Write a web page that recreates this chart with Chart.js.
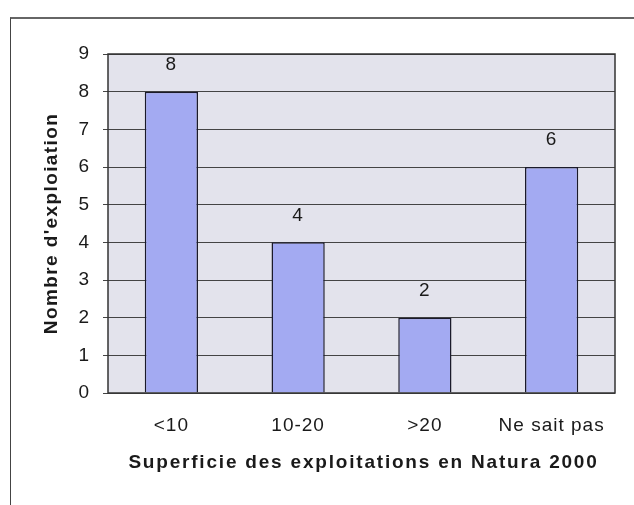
<!DOCTYPE html>
<html lang="fr">
<head>
  <meta charset="UTF-8">
  <title>Superficie des exploitations en Natura 2000</title>
  <script src="https://cdn.jsdelivr.net/npm/chart.js"></script>
  <style>
    html, body { margin: 0; padding: 0; background: #fff; }
    .wrap { position: relative; width: 634px; height: 505px; }
    .frame {
      position: absolute; left: 10px; top: 17px; right: -2px; bottom: -2px;
      border-left: 1px solid #444; border-top: 2px solid #666;
    }
    canvas { position: absolute; left: 0; top: 0; }
  </style>
</head>
<body>
<div class="wrap">
  <div class="frame"></div>
  <canvas id="chart" width="634" height="505"></canvas>
</div>

<script>
  // chart data
  const categories = ['<10', '10-20', '>20', 'Ne sait pas'];
  const exploitations = [8, 4, 2, 6];
  const yTicks = [0, 1, 2, 3, 4, 5, 6, 7, 8, 9];
  const xTitle = 'Superficie des exploitations en Natura 2000';
  const yTitle = "Nombre d'exploiation";

  const FONT = '"Liberation Sans", Arial, sans-serif';

  // plot background, frame, titles and value labels like the Excel original
  const excelLook = {
    id: 'excelLook',
    beforeDraw(chart) {
      const { ctx, chartArea: a } = chart;
      ctx.save();
      ctx.fillStyle = '#e3e3ec';
      ctx.fillRect(a.left, a.top, a.right - a.left, a.bottom - a.top);
      ctx.restore();
      ctx.letterSpacing = '1px';
    },
    afterDatasetsDraw(chart) {
      const { ctx, chartArea: a } = chart;
      ctx.save();
      ctx.strokeStyle = '#333';
      ctx.lineWidth = 1.5;
      ctx.strokeRect(a.left, a.top, a.right - a.left, a.bottom - a.top);
      ctx.fillStyle = '#1a1a1a';
      ctx.font = '19px ' + FONT;
      ctx.letterSpacing = '1px';
      ctx.textAlign = 'center';
      ctx.textBaseline = 'middle';
      chart.getDatasetMeta(0).data.forEach((bar, i) => {
        ctx.fillText(String(exploitations[i]), bar.x, bar.y - 27);
      });

      // axis titles
      ctx.font = 'bold 19px ' + FONT;
      ctx.letterSpacing = '1.8px';
      ctx.fillText(xTitle, (a.left + a.right) / 2 + 2, 463);
      ctx.letterSpacing = '1.4px';
      ctx.translate(52, (a.top + a.bottom) / 2);
      ctx.rotate(-Math.PI / 2);
      ctx.fillText(yTitle, 0, 0);
      ctx.restore();
      ctx.letterSpacing = '0px';
    }
  };

  new Chart(document.getElementById('chart').getContext('2d'), {
    type: 'bar',
    data: {
      labels: categories,
      datasets: [{
        data: exploitations,
        backgroundColor: '#a3aaf2',
        borderColor: '#1a1a2a',
        borderWidth: 1.5,
        categoryPercentage: 1,
        barPercentage: 0.42
      }]
    },
    options: {
      responsive: false,
      animation: false,
      layout: { padding: { left: 0, right: 19, top: 54, bottom: 0 } },
      plugins: { legend: { display: false }, tooltip: { enabled: false } },
      scales: {
        x: {
          grid: { display: false, drawTicks: false },
          border: { display: false },
          ticks: { color: '#1a1a1a', padding: 21, font: { family: FONT, size: 19 } },
          afterFit(scale) { scale.height = 112; }
        },
        y: {
          min: 0,
          max: 9,
          afterBuildTicks(scale) { scale.ticks = yTicks.map(v => ({ value: v })); },
          grid: { color: '#444', lineWidth: 1, tickLength: 5 },
          border: { display: false },
          ticks: { color: '#1a1a1a', padding: 13, font: { family: FONT, size: 19 } },
          afterFit(scale) { scale.width = 108; }
        }
      }
    },
    plugins: [excelLook]
  });
</script>
</body>
</html>
